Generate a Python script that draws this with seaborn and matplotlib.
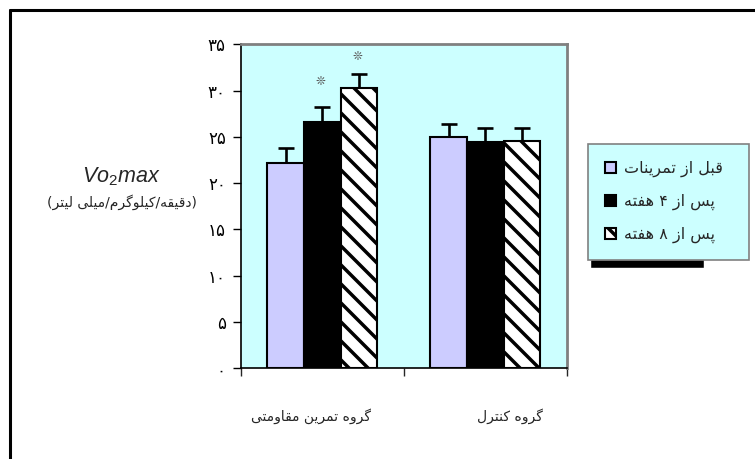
import numpy as np
import pandas as pd
import matplotlib
matplotlib.use("Agg")
import matplotlib.pyplot as plt
from matplotlib.patches import Patch, Rectangle
from matplotlib.lines import Line2D
import seaborn as sns

# ---- data -------------------------------------------------------------
groups = ["گروه تمرین مقاومتی", "گروه کنترل"]
phases = ["قبل از تمرینات", "پس از ۴ هفته", "پس از ۸ هفته"]
vo2_resistance = [22.2, 26.6, 30.3]
vo2_control = [25.0, 24.5, 24.6]
sd_resistance = [1.6, 1.6, 1.5]
sd_control = [1.4, 1.5, 1.4]
significant = [[False, True, True], [False, False, False]]
y_ticks = [0, 5, 10, 15, 20, 25, 30, 35]
y_title = "$Vo_2max$"
y_unit = "(دقیقه/کیلوگرم/میلی لیتر)"

# ---- minimal Persian shaping: presentation forms + right-to-left order --
FORMS = {  # isolated, final, initial, medial
    "ا": ("\uFE8D", "\uFE8E", None, None),
    "ب": ("\uFE8F", "\uFE90", "\uFE91", "\uFE92"),
    "پ": ("\uFB56", "\uFB57", "\uFB58", "\uFB59"),
    "ت": ("\uFE95", "\uFE96", "\uFE97", "\uFE98"),
    "د": ("\uFEA9", "\uFEAA", None, None),
    "ر": ("\uFEAD", "\uFEAE", None, None),
    "ز": ("\uFEAF", "\uFEB0", None, None),
    "س": ("\uFEB1", "\uFEB2", "\uFEB3", "\uFEB4"),
    "ف": ("\uFED1", "\uFED2", "\uFED3", "\uFED4"),
    "ق": ("\uFED5", "\uFED6", "\uFED7", "\uFED8"),
    "ک": ("\uFB8E", "\uFB8F", "\uFB90", "\uFB91"),
    "گ": ("\uFB92", "\uFB93", "\uFB94", "\uFB95"),
    "ل": ("\uFEDD", "\uFEDE", "\uFEDF", "\uFEE0"),
    "م": ("\uFEE1", "\uFEE2", "\uFEE3", "\uFEE4"),
    "ن": ("\uFEE5", "\uFEE6", "\uFEE7", "\uFEE8"),
    "ه": ("\uFEE9", "\uFEEA", "\uFEEB", "\uFEEC"),
    "و": ("\uFEED", "\uFEEE", None, None),
    "ی": ("\uFBFC", "\uFBFD", "\uFBFE", "\uFBFF"),
}
DIGITS = set("0123456789۰۱۲۳۴۵۶۷۸۹")
MIRROR = {"(": ")", ")": "("}


def shape_word(word):
    out = []
    for i, ch in enumerate(word):
        prev_ch = word[i - 1] if i > 0 else None
        next_ch = word[i + 1] if i + 1 < len(word) else None
        joins_prev = prev_ch in FORMS and FORMS[prev_ch][2] is not None
        joins_next = next_ch in FORMS and FORMS[ch][2] is not None
        iso, fin, ini, med = FORMS[ch]
        if joins_prev and joins_next:
            out.append(med)
        elif joins_prev:
            out.append(fin)
        elif joins_next:
            out.append(ini)
        else:
            out.append(iso)
    return "".join(reversed(out))


def fa(text):
    text = text.replace("ي", "ی").replace("ك", "ک")
    tokens, run, kind = [], "", None
    for ch in text:
        k = "ar" if ch in FORMS else ("num" if ch in DIGITS else "other")
        if k == kind and k != "other":
            run += ch
            continue
        if run:
            tokens.append((kind, run))
        run, kind = ch, k
    if run:
        tokens.append((kind, run))
    out = []
    for kind, s in tokens:
        if kind == "ar":
            out.append(shape_word(s))
        elif kind == "num":
            out.append(s)
        else:
            out.append(MIRROR.get(s, s))
    return "".join(reversed(out))


def fa_digits(v):
    return str(v).translate(str.maketrans("0123456789", "۰۱۲۳۴۵۶۷۸۹"))


# ---- style ------------------------------------------------------------
DPI = 114


def P(v):
    """Size given for a 100-dpi canvas, in points for the actual dpi."""
    return v * 100 / DPI


sns.set_theme(style="white")
plt.rcParams["font.family"] = ["DejaVu Sans"]
plt.rcParams["mathtext.fontset"] = "custom"
plt.rcParams["mathtext.it"] = "Liberation Sans:italic"
plt.rcParams["mathtext.rm"] = "Liberation Sans"
plt.rcParams["hatch.linewidth"] = P(2.5)

bg = "#CCFFFF"
colors = ["#CCCCFF", "#000000", "#FFFFFF"]
hatches = ["", "", "\\\\"]

df = pd.DataFrame({
    "group": np.repeat([fa(g) for g in groups], len(phases)),
    "phase": [fa(p) for p in phases] * len(groups),
    "vo2": vo2_resistance + vo2_control,
})
sds = [sd_resistance, sd_control]

fig = plt.figure(figsize=(755 / DPI, 459 / DPI), dpi=DPI)
ax = fig.add_axes([241 / 755, 1 - 368.3 / 459, 325.7 / 755, 324.0 / 459])
ax.set_facecolor(bg)

sns.barplot(data=df, x="group", y="vo2", hue="phase",
            palette=colors, saturation=1, width=0.676, gap=0, errorbar=None,
            edgecolor="black", linewidth=P(1.5), legend=False, ax=ax,
            zorder=2)

bar_containers = list(ax.containers)
for k, cont in enumerate(bar_containers):
    for j, bar in enumerate(cont.patches):
        bar.set_hatch(hatches[k])
        bar.set_edgecolor("black")
        xc = bar.get_x() + bar.get_width() / 2
        h = bar.get_height()
        ax.errorbar(xc, h, yerr=[[0], [sds[j][k]]], fmt="none", ecolor="black",
                    elinewidth=P(1.9), capsize=P(6), capthick=P(1.9), zorder=1)
        if significant[j][k]:
            ax.text(xc - 0.012, h + sds[j][k] + (2.8 if k == 1 else 1.9), "❊",
                    ha="center", va="center", fontsize=P(8.5), color="#555555")

ax.set_xlim(-0.5, 1.5)
ax.set_ylim(0, 35)
ax.set_yticks(y_ticks)
ax.set_yticklabels([fa_digits(v) for v in y_ticks], fontsize=P(12))
ax.tick_params(axis="y", direction="out", length=P(6), width=P(1), pad=P(5),
               left=True, colors="black")

label_shift = np.array([-0.07, 0.15])
ax.set_xticks(np.arange(len(groups)) + label_shift)
ax.set_xticklabels([fa(g) for g in groups], fontsize=P(10))
ax.set_xticks([-0.5, 0.5, 1.5], minor=True)
ax.tick_params(axis="x", which="major", length=0, pad=P(29))
ax.tick_params(axis="x", which="minor", direction="out", length=P(6),
               width=P(1), bottom=True)
ax.set_xlabel("")
ax.set_ylabel("")

for side in ["top", "right"]:
    ax.spines[side].set_color("#808080")
    ax.spines[side].set_linewidth(P(2))
for side in ["left", "bottom"]:
    ax.spines[side].set_color("black")
    ax.spines[side].set_linewidth(P(1.2))

fig.text(121 / 755, 1 - 177 / 459, y_title, fontsize=P(15.5), ha="center",
         va="center")
fig.text(122 / 755, 1 - 202 / 459, fa(y_unit), fontsize=P(10), ha="center",
         va="center")

handles = [Patch(facecolor=colors[k], edgecolor="black", linewidth=P(1.5),
                 hatch=hatches[k]) for k in range(len(phases))]
leg = ax.legend(handles, [fa(p) for p in phases], loc="upper left",
                bbox_to_anchor=(588 / 755, 1 - 261 / 459, 161 / 755, 117 / 459),
                bbox_transform=fig.transFigure, mode="expand",
                frameon=True, fancybox=False, facecolor=bg,
                edgecolor="#808080", framealpha=1, fontsize=P(11.5),
                handlelength=0.7, handleheight=0.7, labelspacing=1.05,
                borderpad=1.05, borderaxespad=0, handletextpad=0.5)
leg.get_frame().set_linewidth(P(1.2))

# drop shadow under the legend box and the outer frame
fig.add_artist(Rectangle((592 / 755, 1 - 267 / 459), 111 / 755, 6 / 459,
                         transform=fig.transFigure, color="black", zorder=-1))
fig.add_artist(Line2D([10 / 755, 10 / 755], [1 - 10 / 459, 0],
                      transform=fig.transFigure, color="black", lw=P(2.2)))
fig.add_artist(Line2D([10 / 755, 1], [1 - 10 / 459, 1 - 10 / 459],
                      transform=fig.transFigure, color="black", lw=P(2.2)))

fig.savefig("out.png", dpi=DPI, facecolor="white")
